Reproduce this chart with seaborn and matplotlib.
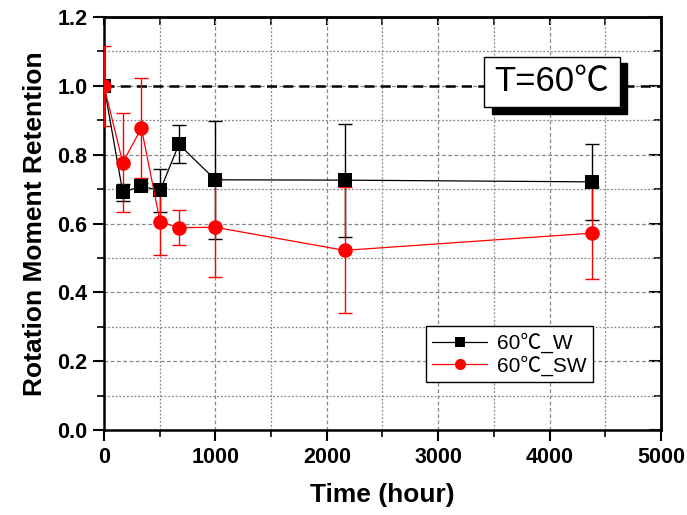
import numpy as np
import pandas as pd
import matplotlib
matplotlib.use("Agg")
import matplotlib.pyplot as plt
import seaborn as sns
from matplotlib.ticker import MultipleLocator
from matplotlib.patches import Rectangle

# Aging time (hours)
time_w = [0, 168, 336, 504, 672, 1000, 2160, 4380]
time_sw = [0, 168, 336, 504, 672, 1000, 2160, 4380]

# Rotation moment retention and errors
ret_w = [1.0, 0.691, 0.708, 0.696, 0.830, 0.727, 0.726, 0.721]
err_w = [0.0, 0.025, 0.010, 0.062, 0.055, 0.172, 0.164, 0.110]
ret_sw = [1.0, 0.777, 0.877, 0.605, 0.588, 0.589, 0.522, 0.572]
err_sw = [0.116, 0.144, 0.145, 0.097, 0.050, 0.144, 0.183, 0.133]

series_names = ["60\u2103_W", "60\u2103_SW"]
series_colors = ["black", "red"]

x_ticks = [0, 1000, 2000, 3000, 4000, 5000]
y_ticks = [0.0, 0.2, 0.4, 0.6, 0.8, 1.0, 1.2]

sns.set_style("ticks")
plt.rcParams["font.family"] = ["Liberation Sans", "Noto Sans CJK SC", "DejaVu Sans"]
plt.rcParams.update({"text.color": "black", "axes.labelcolor": "black",
                     "xtick.color": "black", "ytick.color": "black"})

df = pd.concat([
    pd.DataFrame({"time": time_w, "ret": ret_w, "series": series_names[0]}),
    pd.DataFrame({"time": time_sw, "ret": ret_sw, "series": series_names[1]}),
])

fig = plt.figure(figsize=(6.87, 5.15), dpi=100)
ax = fig.add_axes([0.1514, 0.165, 0.8106, 0.802])

ax.set_xlim(0, 5000)
ax.set_ylim(0, 1.2)
ax.set_xticks(x_ticks)
ax.set_yticks(y_ticks)
ax.xaxis.set_minor_locator(MultipleLocator(500))
ax.yaxis.set_minor_locator(MultipleLocator(0.1))
ax.set_xticklabels([str(v) for v in x_ticks])
ax.set_yticklabels([f"{v:.1f}" for v in y_ticks])
for lab in ax.get_xticklabels() + ax.get_yticklabels():
    lab.set_fontweight("bold")

# grid: major dashed, minor dotted
ax.grid(which="major", color="#888888", linestyle=(0, (3, 2)), linewidth=0.9)
ax.grid(which="minor", color="#888888", linestyle=(0, (1.5, 1.5)), linewidth=0.9)
ax.set_axisbelow(True)

# reference line at full retention
ax.axhline(1.0, color="black", linestyle=(0, (4, 2.5)), linewidth=1.8, zorder=2)

sns.lineplot(data=df, x="time", y="ret", hue="series", style="series",
             palette=series_colors, markers=["s", "o"], dashes=False,
             markersize=10.5, linewidth=0.9, markeredgewidth=0,
             ax=ax, legend=False, zorder=4, sort=False)

ax.errorbar(time_w, ret_w, yerr=err_w, fmt="none", ecolor="black",
            elinewidth=1.0, capsize=5, capthick=1.0, zorder=3)
ax.errorbar(time_sw, ret_sw, yerr=err_sw, fmt="none", ecolor="red",
            elinewidth=1.0, capsize=5, capthick=1.0, zorder=3)

for s in ax.spines.values():
    s.set_linewidth(1.8)
    s.set_color("black")

ax.tick_params(axis="both", which="major", direction="out", length=8, width=1.5,
               labelsize=15.5, pad=4)
ax.tick_params(axis="both", which="minor", direction="out", length=5, width=1.2)

# inward ticks on top and right
top = ax.secondary_xaxis("top")
top.xaxis.set_major_locator(MultipleLocator(1000))
top.xaxis.set_minor_locator(MultipleLocator(500))
top.tick_params(which="major", direction="in", length=6, width=1.5, labeltop=False)
top.tick_params(which="minor", direction="in", length=6, width=1.2)
top.spines["top"].set_linewidth(1.8)
right = ax.secondary_yaxis("right")
right.yaxis.set_major_locator(MultipleLocator(0.2))
right.yaxis.set_minor_locator(MultipleLocator(0.1))
right.tick_params(which="major", direction="in", length=9, width=1.5, labelright=False)
right.tick_params(which="minor", direction="in", length=5, width=1.2)
right.spines["right"].set_linewidth(1.8)

ax.set_xlabel("Time (hour)", fontsize=19, fontweight="bold", labelpad=11)
ax.set_ylabel("Rotation Moment Retention", fontsize=19, fontweight="bold", labelpad=7)

# legend
handles = [
    plt.Line2D([], [], color="black", linewidth=0.9, marker="s", markersize=7,
               markeredgewidth=0),
    plt.Line2D([], [], color="red", linewidth=0.9, marker="o", markersize=8,
               markeredgewidth=0),
]
leg = ax.legend(handles, series_names, loc="lower right",
                bbox_to_anchor=(0.878, 0.1165), fontsize=15, frameon=True,
                fancybox=False, edgecolor="black", framealpha=1,
                handlelength=2.6, borderpad=0.3, labelspacing=0.1,
                handletextpad=0.5, borderaxespad=0)
leg.get_frame().set_linewidth(1.0)

# temperature label box with drop shadow
bx0, by0, bw, bh = 0.683, 0.782, 0.243, 0.122
ax.add_patch(Rectangle((bx0 + 0.013, by0 - 0.016), bw, bh, transform=ax.transAxes,
                       facecolor="black", edgecolor="black", zorder=6))
ax.add_patch(Rectangle((bx0, by0), bw, bh, transform=ax.transAxes,
                       facecolor="white", edgecolor="black", linewidth=1.0, zorder=7))
ax.text(bx0 + bw / 2, by0 + bh / 2, "T=60\u2103", transform=ax.transAxes,
        ha="center", va="center", fontsize=25, zorder=8)

fig.savefig("out.png", dpi=100)
